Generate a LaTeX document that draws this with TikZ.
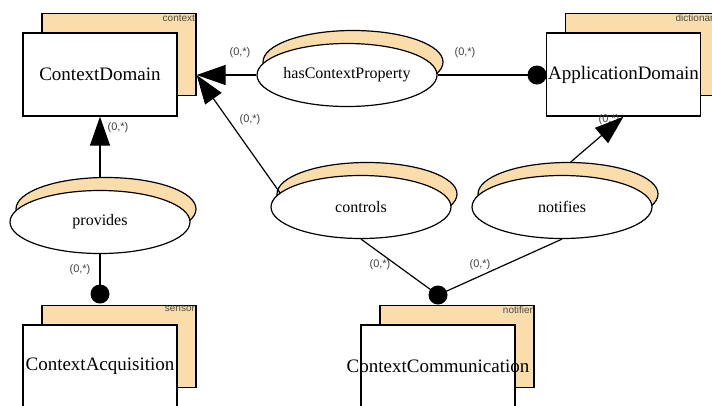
\documentclass[tikz,border=0pt]{standalone}
\usepackage{fontspec}
\setmainfont{Liberation Serif}
\newfontfamily\labelfont{Liberation Sans}
\usetikzlibrary{arrows.meta,shapes.geometric}
\definecolor{peach}{RGB}{250,221,170}
\newcommand{\boxtext}[1]{\makebox[0pt]{#1}}
\begin{document}
\begin{tikzpicture}[x=1pt,y=-1pt,
 front/.style={draw, line width=1.3pt, fill=white, minimum width=154pt, minimum height=83pt, inner sep=0pt, font=\fontsize{19}{22}\selectfont},
 back/.style={draw, line width=1.3pt, fill=peach, minimum width=154pt, minimum height=82pt, inner sep=0pt},
 tag/.style={font=\labelfont\fontsize{10}{10}\selectfont, text=black!70, anchor=north east, inner sep=1.5pt},
 relfront/.style={draw, line width=1.2pt, fill=white, ellipse, minimum width=180pt, minimum height=63pt, inner sep=0pt, font=\fontsize{16}{18}\selectfont},
 relback/.style={draw, line width=1.2pt, fill=peach, ellipse, minimum width=180pt, minimum height=63pt, inner sep=0pt},
 card/.style={font=\labelfont\fontsize{11}{11}\selectfont, text=black!75, inner sep=0pt},
 conn/.style={line width=1.2pt},
 arr/.style={conn, -{Triangle[length=29pt,width=20pt]}},
 dot/.style={circle, fill=black, minimum size=19pt, inner sep=0pt},
]
\path[use as bounding box] (0,0) rectangle (712,405);
\clip (0,0) rectangle (712,405);

% back boxes
\node[back] (cdb) at (119,54.5) {};
\node[tag] (cdt) at (cdb.north east) {context};
\node[back] (adb) at (642.5,54.5) {};
\node[tag] (adt) at (adb.north east) {dictionary};
\node[back] (cab) at (119,346.5) {};
\node[tag] (cat) at (cab.north east) {sensor};
\node[back] (ccb) at (457,346.5) {};
\node[tag] (cct) at (ccb.north east) {notifier};

% front boxes
\node[front] (cd) at (100,74.5) {\boxtext{ContextDomain}};
\node[front] (ad) at (623.5,74.5) {\boxtext{ApplicationDomain}};
\node[front] (ca) at (100,366.5) {\boxtext{ContextAcquisition}};
\node[front] (cc) at (438,366.5) {\boxtext{ContextCommunication}};

% relationship ellipses
\node[relback] (hcpb) at (353,62) {};
\node[relfront] (hcp) at (347,75) {hasContextProperty};
\node[relback] (provb) at (106,209) {};
\node[relfront] (prov) at (100,222) {provides};
\node[relback] (ctrlb) at (367,194) {};
\node[relfront] (ctrl) at (361,207) {controls};
\node[relback] (notifb) at (568,194) {};
\node[relfront] (notif) at (562,207) {notifies};

% dots
\node[dot] (addot) at (537,75) {};
\node[dot] (cadot) at (100,294) {};
\node[dot] (ccdot) at (438,295) {};

\coordinate (tipcd) at (cdb.east |- hcp.west);

% connectors
\draw[arr] (hcp.west) -- (tipcd);
\draw[arr] (ctrl.170) -- (tipcd);
\draw[conn] (hcp.east) -- (addot.center);
\draw[arr] (provb.north -| cd.south) -- (cd.south);
\draw[conn] (prov.south) -- (cadot.center);
\draw[conn] (ctrl.south) -- (ccdot.center);
\draw[conn] (notif.south) -- (ccdot.center);

% cardinalities
\node[card] (c1) at (240,53) {(0,*)};
\node[card] (c2) at (465,53) {(0,*)};
\node[card] (c3) at (118,128) {(0,*)};
\node[card] (c4) at (250,120) {(0,*)};
\node[card] (c5) at (80,270) {(0,*)};
\node[card] (c6) at (380,265) {(0,*)};
\node[card] (c7) at (480,265) {(0,*)};
\node[card] (c8) at (609,120) {(0,*)};

\draw[arr] (notifb.85) -- (ad.south);
\end{tikzpicture}
\end{document}
